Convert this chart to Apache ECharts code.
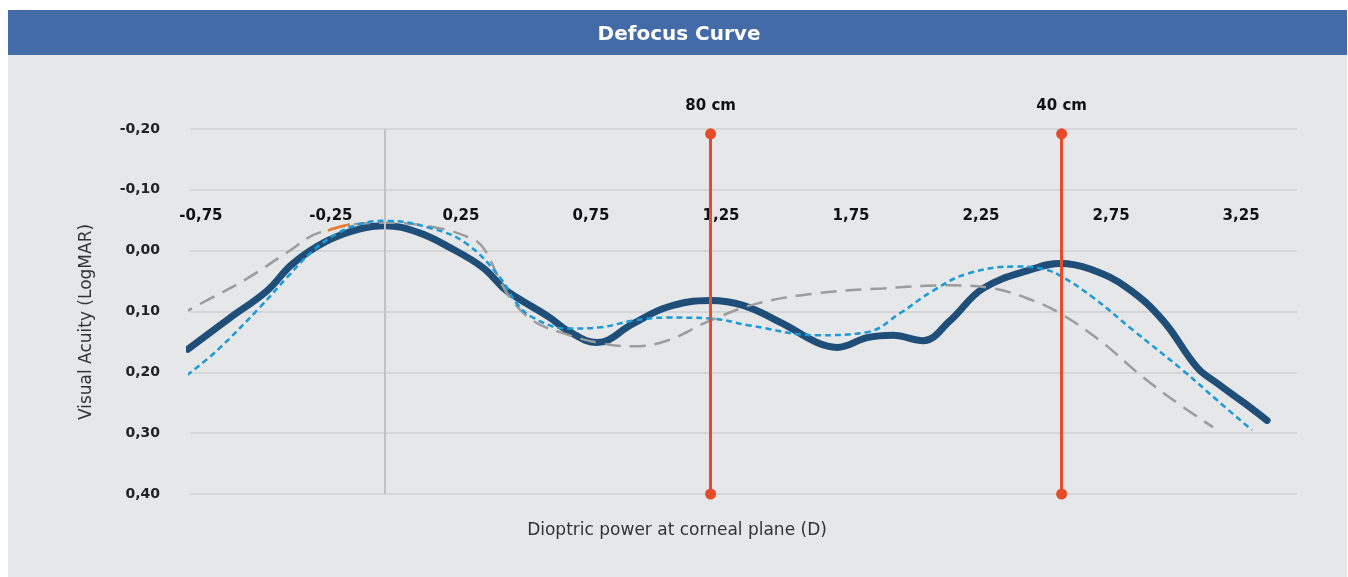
<!DOCTYPE html>
<html lang="en">
<head>
    <meta charset="UTF-8">
    <title>Defocus Curve</title>
    <script src="https://cdn.jsdelivr.net/npm/echarts@6/dist/echarts.min.js"></script>
    <style>
        html, body { margin: 0; padding: 0; background: #ffffff; }
    </style>
</head>
<body>
<div class="container" style="width: 1348px;height:577px;"></div>
<script>
    // x = dioptric power (D), y = visual acuity (LogMAR)
    let meanCurve = [
        [-0.80, 0.162], [-0.64, 0.111], [-0.496, 0.066], [-0.396, 0.021], [-0.265, -0.016],
        [-0.138, -0.036], [-0.042, -0.041], [0.085, -0.030], [0.208, -0.005], [0.335, 0.028],
        [0.412, 0.061], [0.465, 0.077], [0.592, 0.110], [0.658, 0.131], [0.773, 0.151],
        [0.912, 0.120], [1.042, 0.093], [1.208, 0.082], [1.335, 0.090], [1.488, 0.120],
        [1.619, 0.151], [1.696, 0.159], [1.812, 0.143], [1.912, 0.139], [2.027, 0.148],
        [2.131, 0.115], [2.258, 0.062], [2.45, 0.030], [2.554, 0.021], [2.669, 0.030],
        [2.812, 0.061], [2.95, 0.115], [3.081, 0.192], [3.158, 0.218], [3.258, 0.249], [3.35, 0.279]
    ];
    let blueCurve = [
        [-0.804, 0.205], [-0.688, 0.164], [-0.523, 0.093], [-0.419, 0.044], [-0.319, 0.000],
        [-0.227, -0.028], [-0.138, -0.044], [-0.042, -0.049], [0.142, -0.036], [0.273, -0.011],
        [0.40, 0.044], [0.465, 0.087], [0.527, 0.110], [0.658, 0.128], [0.785, 0.126],
        [0.912, 0.115], [1.042, 0.110], [1.196, 0.111], [1.362, 0.123], [1.619, 0.139],
        [1.812, 0.134], [1.938, 0.103], [2.065, 0.066], [2.196, 0.038], [2.388, 0.026],
        [2.488, 0.030], [2.554, 0.041], [2.681, 0.077], [2.835, 0.131], [3.027, 0.197],
        [3.158, 0.246], [3.292, 0.295]
    ];
    let grayCurve = [
        [-0.838, 0.107], [-0.715, 0.079], [-0.573, 0.046], [-0.419, 0.003], [-0.292, -0.030],
        [-0.05, -0.046], [0.142, -0.039], [0.285, -0.021], [0.335, -0.005], [0.388, 0.038],
        [0.438, 0.077], [0.527, 0.115], [0.631, 0.134], [0.785, 0.152], [0.912, 0.157],
        [1.042, 0.148], [1.208, 0.115], [1.388, 0.087], [1.619, 0.070], [1.873, 0.062],
        [2.131, 0.057], [2.296, 0.062], [2.45, 0.082], [2.554, 0.103], [2.708, 0.148],
        [2.873, 0.208], [3.027, 0.257], [3.142, 0.290]
    ];
    let orangeCurve = [[-0.262, -0.033], [-0.22, -0.039], [-0.177, -0.043]];

    let xTicks = [-0.75, -0.25, 0.25, 0.75, 1.25, 1.75, 2.25, 2.75, 3.25];
    let axisRefX = -0.042;
    let distances = [
        {name: '80 cm', x: 1.21},
        {name: '40 cm', x: 2.56}
    ];

    let font = '"DejaVu Sans", sans-serif';
    let comma = v => v.toFixed(2).replace('.', ',');

    let container = document.querySelector('.container');
    let mycharts = echarts.init(container);

    let distanceLines = distances.map(d => [
        {coord: [d.x, 0.40], symbol: 'circle'},
        {coord: [d.x, -0.192], symbol: 'circle', label: {formatter: d.name}}
    ]);

    let option = {
        backgroundColor: '#ffffff',
        animation: false,
        graphic: [
            {type: 'rect', shape: {x: 8, y: 55, width: 1339, height: 522}, style: {fill: '#e6e7e9'}, z: -10},
            {type: 'rect', shape: {x: 8, y: 10, width: 1339, height: 45}, style: {fill: '#436ba8'}, z: -10},
            {
                type: 'text', x: 679, y: 35,
                style: {text: 'Defocus Curve', fill: '#ffffff', font: 'bold 20px ' + font, align: 'center', verticalAlign: 'middle'}
            },
            {
                type: 'text', x: 677, y: 531,
                style: {text: 'Dioptric power at corneal plane (D)', fill: '#333333', font: '17px ' + font, align: 'center', verticalAlign: 'middle'}
            },
            {
                type: 'text', x: 87, y: 322, rotation: Math.PI / 2,
                style: {text: 'Visual Acuity (LogMAR)', fill: '#333333', font: '17px ' + font, align: 'center', verticalAlign: 'middle'}
            }
        ],
        grid: {left: 190, right: 51, top: 129, bottom: 83},
        xAxis: {
            type: 'value',
            min: -0.792,
            max: 3.465,
            axisLine: {show: false},
            axisTick: {show: false},
            splitLine: {show: false},
            axisLabel: {
                customValues: xTicks,
                margin: -285,
                color: '#111111',
                fontSize: 15,
                fontWeight: 'bold',
                fontFamily: font,
                formatter: comma
            }
        },
        yAxis: {
            type: 'value',
            inverse: true,
            min: -0.2,
            max: 0.4,
            interval: 0.1,
            axisLine: {show: false},
            axisTick: {show: false},
            splitLine: {lineStyle: {color: '#cfd0d0', width: 1.5}},
            axisLabel: {
                margin: 30,
                color: '#222222',
                fontSize: 14,
                fontWeight: 'bold',
                fontFamily: font,
                formatter: comma
            }
        },
        series: [
            {
                name: 'axis', type: 'line', data: [], z: 1, silent: true,
                markLine: {
                    silent: true, symbol: 'none', label: {show: false},
                    lineStyle: {color: '#c2c2c2', width: 2, type: 'solid'},
                    data: [[{coord: [axisRefX, -0.2]}, {coord: [axisRefX, 0.4]}]]
                }
            },
            {
                name: 'mean', type: 'line', data: meanCurve, smooth: 0.4, showSymbol: false, z: 2,
                lineStyle: {color: '#1f4e79', width: 7, cap: 'round'}
            },
            {
                name: 'gray', type: 'line', data: grayCurve, smooth: 0.4, showSymbol: false, z: 3, clip: false,
                lineStyle: {color: '#9c9c9c', width: 2.5, type: [16, 9]}
            },
            {
                name: 'orange', type: 'line', data: orangeCurve, smooth: true, showSymbol: false, z: 3,
                lineStyle: {color: '#ed7d31', width: 2.5}
            },
            {
                name: 'blue', type: 'line', data: blueCurve, smooth: 0.4, showSymbol: false, z: 4,
                lineStyle: {color: '#1a9ad6', width: 2.5, type: [6, 4]}
            },
            {
                name: 'distance', type: 'line', data: [], z: 10, silent: true,
                markLine: {
                    silent: true,
                    symbolSize: 11,
                    lineStyle: {color: '#e84a2a', width: 3, type: 'solid'},
                    itemStyle: {color: '#e84a2a'},
                    label: {
                        show: true, position: 'end', distance: 20,
                        color: '#111111', fontSize: 15, fontWeight: 'bold', fontFamily: font
                    },
                    data: distanceLines
                }
            }
        ]
    };

    mycharts.setOption(option);
</script>
</body>
</html>
